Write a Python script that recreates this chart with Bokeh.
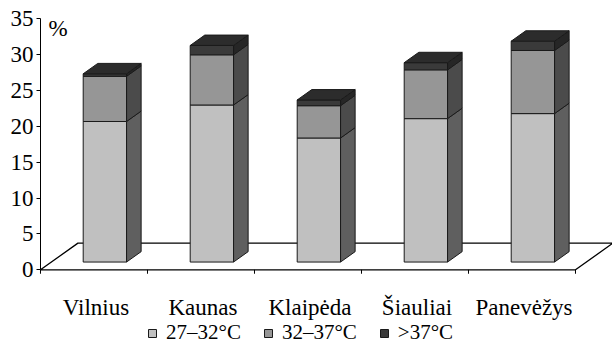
from bokeh.plotting import figure
from bokeh.models import Range1d, FixedTicker, Legend, LegendItem
from bokeh.core.properties import value
from bokeh.embed import file_html
from bokeh.resources import INLINE

# ---- data ----
cities = ["Vilnius", "Kaunas", "Klaipėda", "Šiauliai", "Panevėžys"]
series_names = ["27–32°C", "32–37°C", ">37°C"]
s_27_32 = [19.6, 21.9, 17.3, 20.0, 20.7]
s_32_37 = [6.3, 7.0, 4.5, 6.8, 8.8]
s_gt37 = [0.35, 1.3, 0.8, 1.0, 1.3]
y_ticks = [0, 5, 10, 15, 20, 25, 30, 35]
unit_label = "%"

# ---- style ----
front_colors = ["#c0c0c0", "#969696", "#3a3a3a"]
side_colors = ["#5f5f5f", "#4b4b4b", "#262626"]
top_color = "#2c2c2c"
edge_color = "#1a1a1a"
FONT = "Liberation Serif"

# 3-D geometry (category units on x, value units on y)
DX, DY = 0.35, 3.72        # full floor depth
F1, F2 = 0.29, 0.68        # bar depth: front / back fraction
GAP, BAR_W = 0.2975, 0.405

n = len(cities)
p = figure(frame_width=612, frame_height=345, title=None,
           x_range=Range1d(-0.3738, 5.3458), y_range=Range1d(-10.556, 37.55),
           output_backend="svg", toolbar_location=None, x_axis_type=None,
           min_border_left=0, min_border_right=0, min_border_top=0, min_border_bottom=0)
p.grid.visible = False
p.outline_line_color = None
p.background_fill_color = "white"

ax = p.yaxis[0]
ax.fixed_location = 0
ax.bounds = (0, 35)
ax.ticker = FixedTicker(ticks=y_ticks)
ax.minor_tick_line_color = None
ax.major_tick_in = 0
ax.major_tick_out = 4
ax.major_label_standoff = 3
ax.major_label_text_font = FONT
ax.major_label_text_font_size = "23px"
ax.major_label_text_color = "black"
ax.axis_line_color = "black"
ax.major_tick_line_color = "black"

# floor
p.patch(x=[0, n, n + DX, DX], y=[0, 0, DY, DY], fill_color="white",
        line_color="black", line_width=1.3)
bounds_x = list(range(n + 1))
p.segment(x0=bounds_x, y0=[0] * (n + 1), x1=bounds_x, y1=[-0.55] * (n + 1),
          line_color="black", line_width=1)

# bars
layers = [s_27_32, s_32_37, s_gt37]
cum = [0.0] * n
ddx, ddy = (F2 - F1) * DX, (F2 - F1) * DY
front_renderers = []
for si, vals in enumerate(layers):
    L, R, B, T, sxs, sys_ = [], [], [], [], [], []
    for ci in range(n):
        lo, hi = cum[ci], cum[ci] + vals[ci]
        x0 = ci + GAP + F1 * DX
        x1 = x0 + BAR_W
        y0 = F1 * DY + lo
        y1 = F1 * DY + hi
        L.append(x0); R.append(x1); B.append(y0); T.append(y1)
        sxs.append([x1, x1 + ddx, x1 + ddx, x1])
        sys_.append([y0, y0 + ddy, y1 + ddy, y1])
        cum[ci] = hi
    p.patches(xs=sxs, ys=sys_, fill_color=side_colors[si], line_color=edge_color, line_width=1)
    r = p.quad(left=L, right=R, bottom=B, top=T, fill_color=front_colors[si],
               line_color=edge_color, line_width=1)
    front_renderers.append(r)

txs, tys = [], []
for ci in range(n):
    x0 = ci + GAP + F1 * DX
    x1 = x0 + BAR_W
    y1 = F1 * DY + cum[ci]
    txs.append([x0, x1, x1 + ddx, x0 + ddx])
    tys.append([y1, y1, y1 + ddy, y1 + ddy])
p.patches(xs=txs, ys=tys, fill_color=top_color, line_color=edge_color, line_width=1)

# category labels
p.text(x=[ci + 0.5 for ci in range(n)], y=[0] * n, text=cities, x_offset=2, y_offset=38,
       text_align="center", text_baseline="alphabetic", text_font=value(FONT),
       text_font_size="23px", text_color="black")
# unit label
p.text(x=[0], y=[35], text=[unit_label], x_offset=8, y_offset=10,
       text_align="left", text_baseline="alphabetic", text_font=value(FONT),
       text_font_size="23px", text_color="black")

legend = Legend(items=[LegendItem(label=nm, renderers=[r]) for nm, r in zip(series_names, front_renderers)],
                location=(147, 0), orientation="horizontal", glyph_width=10, glyph_height=10,
                label_standoff=9, spacing=22, padding=0, margin=0,
                border_line_alpha=0, background_fill_alpha=0,
                label_text_font=FONT, label_text_font_size="21px", label_text_color="black")
p.add_layout(legend)

open("out.html", "w").write(file_html(p, INLINE))
